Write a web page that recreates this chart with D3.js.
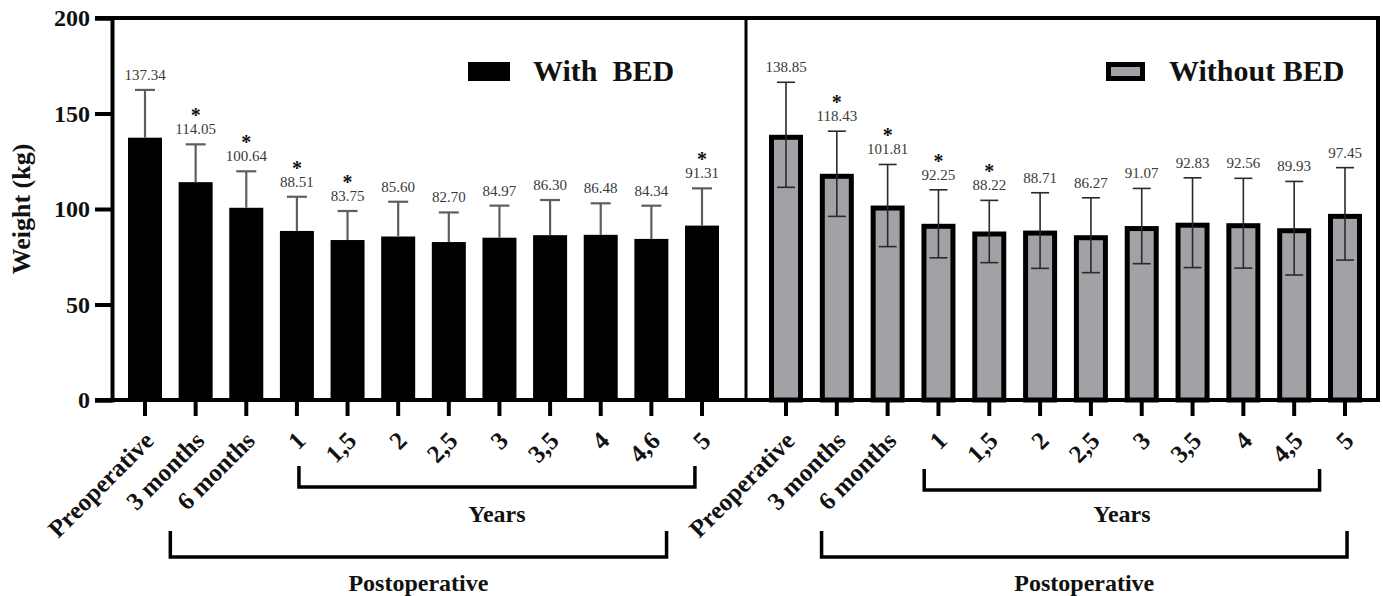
<!DOCTYPE html>
<html lang="en">
<head>
  <meta charset="UTF-8" />
  <title>Weight with and without BED</title>
  <script src="https://d3js.org/d3.v7.min.js"></script>
  <style>
    body {
      margin: 0;
      background: #fff;
    }
    svg text {
      font-family: "Liberation Serif", "DejaVu Serif", serif;
    }
  </style>
</head>
<body>
  <div id="chart"></div>

  <script>
    // data
    const timepointsWith = ["Preoperative", "3 months", "6 months", "1", "1,5", "2", "2,5", "3", "3,5", "4", "4,6", "5"];
    const timepointsWithout = ["Preoperative", "3 months", "6 months", "1", "1,5", "2", "2,5", "3", "3,5", "4", "4,5", "5"];

    const meanWith = [137.34, 114.05, 100.64, 88.51, 83.75, 85.60, 82.70, 84.97, 86.30, 86.48, 84.34, 91.31];
    const sdWith = [25.0, 19.8, 19.1, 17.9, 15.2, 18.2, 15.5, 16.8, 18.4, 16.5, 17.4, 19.5];
    const sigWith = [false, true, true, true, true, false, false, false, false, false, false, true];

    const meanWithout = [138.85, 118.43, 101.81, 92.25, 88.22, 88.71, 86.27, 91.07, 92.83, 92.56, 89.93, 97.45];
    const sdWithout = [27.5, 22.3, 21.5, 17.8, 16.3, 19.8, 19.6, 19.7, 23.5, 23.5, 24.5, 24.2];
    const sigWithout = [false, true, true, true, true, false, false, false, false, false, false, false];

    const yTicks = [0, 50, 100, 150, 200];

    const width = 1383;
    const height = 596;

    const svg = d3.select("#chart")
      .append("svg")
      .attr("width", width)
      .attr("height", height);

    const y = d3.scaleLinear().domain([0, 200]).range([400, 18]);

    const xLeft = d3.scalePoint().domain(d3.range(12)).range([145, 702]);
    const xRight = d3.scalePoint().domain(d3.range(12)).range([786, 1345]);

    const axisX = 112, dividerX = 746, rightX = 1378;
    const barW = 34;

    // frame: top line, divider, right edge
    svg.append("line").attr("x1", 95).attr("x2", rightX + 2).attr("y1", y(200)).attr("y2", y(200))
      .attr("stroke", "#000").attr("stroke-width", 4);
    svg.append("line").attr("x1", dividerX).attr("x2", dividerX).attr("y1", y(200)).attr("y2", y(0))
      .attr("stroke", "#000").attr("stroke-width", 3);
    svg.append("line").attr("x1", rightX).attr("x2", rightX).attr("y1", y(200)).attr("y2", y(0))
      .attr("stroke", "#000").attr("stroke-width", 4);

    // y axis
    const yAxis = svg.append("g")
      .attr("transform", `translate(${axisX},0)`)
      .call(d3.axisLeft(y).tickValues(yTicks).tickSize(17).tickPadding(5));
    yAxis.select(".domain").attr("stroke-width", 4);
    yAxis.selectAll(".tick line").attr("stroke-width", 4);
    yAxis.selectAll(".tick text")
      .attr("font-size", 24)
      .attr("font-weight", "bold")
      .attr("fill", "#111")
      .style("font-family", "'Liberation Serif', serif");

    svg.append("text")
      .attr("transform", `translate(30,${y(100)}) rotate(-90)`)
      .attr("text-anchor", "middle")
      .attr("font-size", 26)
      .attr("font-weight", "bold")
      .attr("fill", "#111")
      .text("Weight (kg)");

    function drawPanel(x, labels, mean, sd, sig, withBed) {
      const g = svg.append("g");

      const bars = g.selectAll("rect.bar")
        .data(mean)
        .join("rect")
        .attr("class", "bar")
        .attr("x", (d, i) => x(i) - barW / 2)
        .attr("width", barW)
        .attr("y", d => y(d))
        .attr("height", d => y(0) - y(d));

      if (withBed) {
        bars.attr("fill", "#000");
      } else {
        bars.attr("fill", "#a2a1a6")
          .attr("stroke", "#000")
          .attr("stroke-width", 5)
          .attr("x", (d, i) => x(i) - barW / 2 + 2.5)
          .attr("width", barW - 5)
          .attr("y", d => y(d) + 2.5)
          .attr("height", d => y(0) - y(d) - 2.5);
      }

      const errColor = withBed ? "#5e5e5e" : "#2a2a2a";
      const errW = withBed ? 2.2 : 1.6;
      const capW = withBed ? 20 : 18;

      mean.forEach((m, i) => {
        const lo = withBed ? m : m - sd[i];
        const hi = m + sd[i];
        g.append("line")
          .attr("x1", x(i)).attr("x2", x(i))
          .attr("y1", y(lo)).attr("y2", y(hi))
          .attr("stroke", errColor).attr("stroke-width", errW);
        g.append("line")
          .attr("x1", x(i) - capW / 2).attr("x2", x(i) + capW / 2)
          .attr("y1", y(hi)).attr("y2", y(hi))
          .attr("stroke", errColor).attr("stroke-width", errW);
        if (!withBed) {
          g.append("line")
            .attr("x1", x(i) - capW / 2).attr("x2", x(i) + capW / 2)
            .attr("y1", y(lo)).attr("y2", y(lo))
            .attr("stroke", errColor).attr("stroke-width", errW);
        }

        const base = y(hi) - 10;
        g.append("text")
          .attr("x", x(i))
          .attr("y", base)
          .attr("text-anchor", "middle")
          .attr("font-size", 15)
          .attr("fill", "#3a3a3a")
          .text(m.toFixed(2));
        if (sig[i]) {
          g.append("text")
            .attr("x", x(i))
            .attr("y", base - 12)
            .attr("text-anchor", "middle")
            .attr("font-size", 20)
            .attr("font-weight", "bold")
            .attr("fill", "#111")
            .text("*");
        }
      });

      // x ticks and rotated labels
      labels.forEach((lab, i) => {
        g.append("line")
          .attr("x1", x(i)).attr("x2", x(i))
          .attr("y1", y(0)).attr("y2", y(0) + 16)
          .attr("stroke", "#000").attr("stroke-width", 4);
        g.append("text")
          .attr("transform", `translate(${x(i) + 4},${y(0) + 36}) rotate(-45)`)
          .attr("text-anchor", "end")
          .attr("dy", "0.35em")
          .attr("font-size", 25)
          .attr("font-weight", "bold")
          .attr("fill", "#111")
          .text(lab);
      });
    }

    // x axis line
    svg.append("line").attr("x1", 95).attr("x2", rightX + 2).attr("y1", y(0)).attr("y2", y(0))
      .attr("stroke", "#000").attr("stroke-width", 4);

    drawPanel(xLeft, timepointsWith, meanWith, sdWith, sigWith, true);
    drawPanel(xRight, timepointsWithout, meanWithout, sdWithout, sigWithout, false);

    // brackets under the x labels
    function bracket(x, from, to, top, bottom, label, labelY) {
      const step = x.step();
      const x1 = x(0) + from * step, x2 = x(0) + to * step;
      svg.append("path")
        .attr("d", `M${x1},${top}V${bottom}H${x2}V${top}`)
        .attr("fill", "none")
        .attr("stroke", "#000")
        .attr("stroke-width", 3.5);
      svg.append("text")
        .attr("x", (x1 + x2) / 2)
        .attr("y", labelY)
        .attr("text-anchor", "middle")
        .attr("font-size", 24)
        .attr("font-weight", "bold")
        .attr("fill", "#111")
        .text(label);
    }

    bracket(xLeft, 3.04, 10.86, 466, 487, "Years", 522);
    bracket(xLeft, 0.5, 10.3, 531, 557, "Postoperative", 591);
    bracket(xRight, 2.72, 10.5, 469, 490, "Years", 522);
    bracket(xRight, 0.7, 11.04, 531, 557, "Postoperative", 591);

    // legends
    svg.append("rect").attr("x", 468).attr("y", 62).attr("width", 42).attr("height", 19).attr("fill", "#000");
    svg.append("text").attr("x", 533).attr("y", 81)
      .attr("font-size", 30).attr("font-weight", "bold").attr("fill", "#111")
      .style("white-space", "pre")
      .text("With  BED");

    svg.append("rect").attr("x", 1108.5).attr("y", 64.5).attr("width", 34).attr("height", 14)
      .attr("fill", "#a2a1a6").attr("stroke", "#000").attr("stroke-width", 5);
    svg.append("text").attr("x", 1169).attr("y", 81)
      .attr("font-size", 30).attr("font-weight", "bold").attr("fill", "#111")
      .text("Without BED");
  </script>
</body>
</html>
